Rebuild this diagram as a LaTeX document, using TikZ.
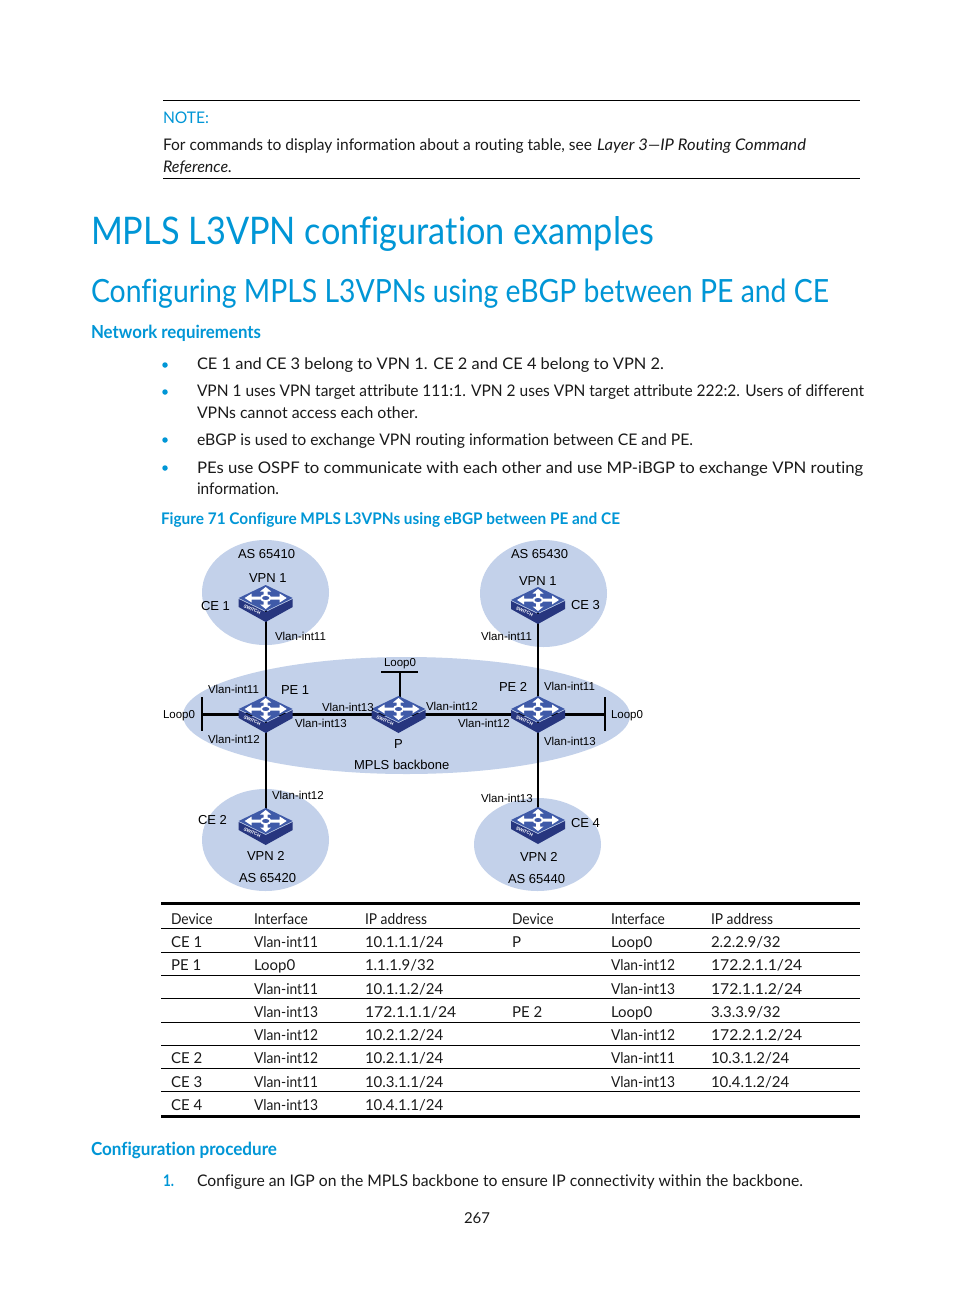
\documentclass[tikz,border=0pt]{standalone}
\usepackage{graphicx}
\usepackage{fontspec}
\setmainfont{Lato}[Ligatures={NoCommon}]
\newfontfamily\arialf{Liberation Sans}
\definecolor{hpblue}{HTML}{0096D6}
\definecolor{cloud}{HTML}{C3D1EA}
\definecolor{swface}{HTML}{3F5AA8}
\definecolor{swside}{HTML}{27367F}
\definecolor{bodyink}{HTML}{1A1A1A}
\newcounter{tn}
% \tx{x}{baseline y}{width}{font}{text}: text squeezed horizontally to the reference width
\newcommand{\tx}[5]{\stepcounter{tn}\node[textnode] (t\thetn) at (#1,#2) {#5\resizebox{#3pt}{\height}{#4}};}
\newcommand{\dl}[4]{\stepcounter{tn}\node[textnode,font=\arialf\fontsize{#4}{#4}\selectfont,text=black] (t\thetn) at (#1,#2) {#3};}
\newcommand{\cell}[3]{\stepcounter{tn}\node[textnode,font=\fontsize{15}{15}\selectfont,text=bodyink] (t\thetn) at (#1,#2) {#3};}
\newcommand{\cn}[3]{\cell{#1}{#2}{\scalebox{0.92}[1]{#3}}}
\newcommand{\cw}[3]{\cell{#1}{#2}{\scalebox{1.05}[1]{#3}}}
\tikzset{
 textnode/.style={anchor=base west,inner sep=0pt,outer sep=0pt,text=bodyink},
 hpline/.style={draw=black,line width=0.8pt},
 trule/.style={draw=black,line width=0.8pt},
 tthick/.style={draw=black,line width=3pt},
 cloudshape/.style={fill=cloud,draw=none},
 link/.style={draw=black,line width=2.2pt},
 swnode/.style={draw=none,fill=none,inner sep=0pt,outer sep=0pt,minimum width=54pt,minimum height=37pt},
 bul/.style={circle,fill=hpblue,draw=none,inner sep=0pt,minimum size=5.5pt},
 switchpic/.pic={
  \begin{scope}[yshift=5.5pt]
  \fill[swside] (-27,1) -- (0,14) -- (27,1) -- (27,9) -- (0,24) -- (-27,9) -- cycle;
  \fill[swface] (-27,0) -- (0,-13) -- (27,0) -- (0,13) -- cycle;
  \fill[white] (5,-1.5) -- (14,-1.5) -- (14,-4.5) -- (21,0) -- (14,4.5) -- (14,1.5) -- (5,1.5) -- cycle;
  \fill[white] (-5,-1.5) -- (-14,-1.5) -- (-14,-4.5) -- (-21,0) -- (-14,4.5) -- (-14,1.5) -- (-5,1.5) -- cycle;
  \fill[white] (-2,-3) -- (-2,-6.5) -- (-5.5,-6.5) -- (0,-11) -- (5.5,-6.5) -- (2,-6.5) -- (2,-3) -- cycle;
  \fill[white] (-2,3) -- (-2,6.5) -- (-5.5,6.5) -- (0,11) -- (5.5,6.5) -- (2,6.5) -- (2,3) -- cycle;
  \draw[white,line width=1.8pt,fill=swface] (0,0) ellipse [x radius=4.8,y radius=3.1];
  \node[rotate=-25.5,text=white,inner sep=0pt,font=\arialf\bfseries\fontsize{4.6}{5}\selectfont] (-lab) at (-13.5,11.5) {SWITCH};
  \end{scope}
 }
}
\begin{document}
\begin{tikzpicture}[x=1pt,y=-1pt]
\useasboundingbox (0,0) rectangle (954,1296);
\fill[white] (0,0) rectangle (954,1296);

% note
\draw[hpline] (163,100) -- (860,100);
\draw[hpline] (163,178) -- (860,178);
\tx{163}{123}{46}{NOTE:}{\fontsize{16}{16}\selectfont\color{hpblue}}
\tx{163}{150.5}{429}{For commands to display information about a routing table, see}{\fontsize{16}{16}\selectfont}
\tx{597}{150.5}{209}{Layer 3—IP Routing Command}{\fontsize{16}{16}\selectfont\itshape}
\tx{163}{172}{69}{Reference.}{\fontsize{16}{16}\selectfont\itshape}

% headings
\tx{91}{244}{563}{MPLS L3VPN configuration examples}{\fontsize{38}{38}\selectfont\color{hpblue}}
\tx{91}{302}{738}{Configuring MPLS L3VPNs using eBGP between PE and CE}{\fontsize{32}{32}\selectfont\color{hpblue}}
\tx{91}{338}{170}{Network requirements}{\fontsize{18}{18}\selectfont\bfseries\color{hpblue}}

% bullets
\node[bul] (b1) at (165,365) {};
\node[bul] (b2) at (165,392) {};
\node[bul] (b3) at (165,440) {};
\node[bul] (b4) at (165,468) {};
\tx{197}{369}{467}{CE 1 and CE 3 belong to VPN 1. CE 2 and CE 4 belong to VPN 2.}{\fontsize{16}{16}\selectfont}
\tx{197}{396}{667}{VPN 1 uses VPN target attribute 111:1. VPN 2 uses VPN target attribute 222:2. Users of different}{\fontsize{16}{16}\selectfont}
\tx{197}{418}{221}{VPNs cannot access each other.}{\fontsize{16}{16}\selectfont}
\tx{197}{445}{496}{eBGP is used to exchange VPN routing information between CE and PE.}{\fontsize{16}{16}\selectfont}
\tx{197}{473}{666}{PEs use OSPF to communicate with each other and use MP-iBGP to exchange VPN routing}{\fontsize{16}{16}\selectfont}
\tx{197}{494}{82}{information.}{\fontsize{16}{16}\selectfont}
\tx{161}{524}{459}{Figure 71 Configure MPLS L3VPNs using eBGP between PE and CE}{\fontsize{16}{16}\selectfont\bfseries\color{hpblue}}

% clouds
\fill[cloudshape] (265.5,592.5) ellipse [x radius=63.5,y radius=52.5];
\fill[cloudshape] (543.5,593.5) ellipse [x radius=63.5,y radius=53.5];
\fill[cloudshape] (406.5,715.5) ellipse [x radius=223.5,y radius=58.5];
\fill[cloudshape] (265.5,840) ellipse [x radius=63.5,y radius=51];
\fill[cloudshape] (537.5,844.5) ellipse [x radius=63.5,y radius=46.5];

% device anchors
\node[swnode] (ce1) at (265.7,603.5) {};
\node[swnode] (ce3) at (538,605.5) {};
\node[swnode] (pe1) at (265.7,714.5) {};
\node[swnode] (pr)  at (398.5,714.5) {};
\node[swnode] (pe2) at (538,714.5) {};
\node[swnode] (ce2) at (265.7,826.5) {};
\node[swnode] (ce4) at (538,825.5) {};
\coordinate (lo1) at (202,714.5);
\coordinate (lo1t) at (202,697);
\coordinate (lo1b) at (202,731);
\coordinate (lo2) at (605,714.5);
\coordinate (lo2t) at (605,697);
\coordinate (lo2b) at (605,731);
\coordinate (lop) at (400,672);
\coordinate (lopl) at (381,672);
\coordinate (lopr) at (418,672);

% connectors
\draw[link] (ce1.center) -- (pe1.center);
\draw[link] (ce3.center) -- (pe2.center);
\draw[link] (pe1.center) -- (ce2.center);
\draw[link] (pe2.center) -- (ce4.center);
\draw[link] (pe1.center) -- (pr.center);
\draw[link] (pr.center) -- (pe2.center);
\draw[link] (lo1) -- (pe1.center);
\draw[link] (pe2.center) -- (lo2);
\draw[link] (lop) -- (lop |- pr);
\draw[link] (lo1t) -- (lo1b);
\draw[link] (lo2t) -- (lo2b);
\draw[link] (lopl) -- (lopr);

% switches
\pic (swa) at (ce1) {switchpic};
\pic (swb) at (ce3) {switchpic};
\pic (swc) at (pe1) {switchpic};
\pic (swd) at (pr) {switchpic};
\pic (swe) at (pe2) {switchpic};
\pic (swf) at (ce2) {switchpic};
\pic (swg) at (ce4) {switchpic};

% diagram labels
\dl{238}{558}{AS 65410}{13}
\dl{249}{582}{VPN 1}{13}
\dl{201}{610}{CE 1}{13}
\dl{275}{640}{Vlan-int11}{11.5}
\dl{208}{693}{Vlan-int11}{11.5}
\dl{281}{694}{PE 1}{13}
\dl{163}{718}{Loop0}{11.5}
\dl{208}{743}{Vlan-int12}{11.5}
\dl{322}{711}{Vlan-int13}{11.5}
\dl{295}{727}{Vlan-int13}{11.5}
\dl{384}{666}{Loop0}{11.5}
\dl{394}{748}{P}{13}
\dl{354}{769}{MPLS backbone}{13}
\dl{511}{558}{AS 65430}{13}
\dl{519}{585}{VPN 1}{13}
\dl{571}{609}{CE 3}{13}
\dl{481}{640}{Vlan-int11}{11.5}
\dl{499}{691}{PE 2}{13}
\dl{544}{690}{Vlan-int11}{11.5}
\dl{426}{710}{Vlan-int12}{11.5}
\dl{458}{727}{Vlan-int12}{11.5}
\dl{611}{718}{Loop0}{11.5}
\dl{544}{745}{Vlan-int13}{11.5}
\dl{272}{799}{Vlan-int12}{11.5}
\dl{481}{802}{Vlan-int13}{11.5}
\dl{198}{824}{CE 2}{13}
\dl{247}{860}{VPN 2}{13}
\dl{239}{882}{AS 65420}{13}
\dl{571}{827}{CE 4}{13}
\dl{520}{861}{VPN 2}{13}
\dl{508}{883}{AS 65440}{13}

% table rules
\draw[tthick] (161,903.5) -- (860,903.5);
\draw[trule] (161,928) -- (860,928);
\draw[trule] (161,952) -- (860,952);
\draw[trule] (161,975.5) -- (860,975.5);
\draw[trule] (161,998.5) -- (860,998.5);
\draw[trule] (161,1022) -- (860,1022);
\draw[trule] (161,1045) -- (860,1045);
\draw[trule] (161,1068) -- (860,1068);
\draw[trule] (161,1091.5) -- (860,1091.5);
\draw[tthick] (161,1116) -- (860,1116);

% table cells
\cn{171}{924}{Device}\cn{254}{924}{Interface}\cn{365}{924}{IP address}\cn{512}{924}{Device}\cn{611}{924}{Interface}\cn{711}{924}{IP address}
\cell{171}{947}{CE 1}\cn{254}{947}{Vlan-int11}\cell{365}{947}{10.1.1.1/24}\cell{512}{947}{P}\cell{611}{947}{Loop0}\cell{711}{947}{2.2.2.9/32}
\cell{171}{970}{PE 1}\cell{254}{970}{Loop0}\cell{365}{970}{1.1.1.9/32}\cn{611}{970}{Vlan-int12}\cw{711}{970}{172.2.1.1/24}
\cn{254}{994}{Vlan-int11}\cell{365}{994}{10.1.1.2/24}\cn{611}{994}{Vlan-int13}\cw{711}{994}{172.1.1.2/24}
\cn{254}{1017}{Vlan-int13}\cw{365}{1017}{172.1.1.1/24}\cell{512}{1017}{PE 2}\cell{611}{1017}{Loop0}\cell{711}{1017}{3.3.3.9/32}
\cn{254}{1040}{Vlan-int12}\cell{365}{1040}{10.2.1.2/24}\cn{611}{1040}{Vlan-int12}\cw{711}{1040}{172.2.1.2/24}
\cell{171}{1063}{CE 2}\cn{254}{1063}{Vlan-int12}\cell{365}{1063}{10.2.1.1/24}\cn{611}{1063}{Vlan-int11}\cell{711}{1063}{10.3.1.2/24}
\cell{171}{1087}{CE 3}\cn{254}{1087}{Vlan-int11}\cell{365}{1087}{10.3.1.1/24}\cn{611}{1087}{Vlan-int13}\cell{711}{1087}{10.4.1.2/24}
\cell{171}{1110}{CE 4}\cn{254}{1110}{Vlan-int13}\cell{365}{1110}{10.4.1.1/24}

% footer
\tx{91}{1155}{186}{Configuration procedure}{\fontsize{18}{18}\selectfont\bfseries\color{hpblue}}
\tx{163}{1186}{11}{1.}{\fontsize{16}{16}\selectfont\bfseries\color{hpblue}}
\tx{197}{1186}{606}{Configure an IGP on the MPLS backbone to ensure IP connectivity within the backbone.}{\fontsize{16}{16}\selectfont}
\tx{464}{1223}{26}{267}{\fontsize{15}{15}\selectfont}
\end{tikzpicture}
\end{document}
